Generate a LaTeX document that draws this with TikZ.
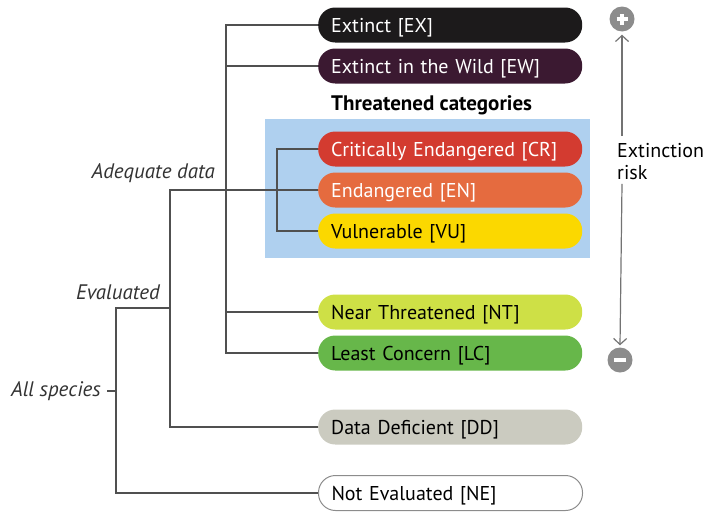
\documentclass[tikz,border=0pt]{standalone}
\usepackage{fontspec}
\setmainfont{PT Sans}
\usepackage{tikz}
\usetikzlibrary{positioning,arrows.meta}

\definecolor{exCol}{HTML}{1C1A1B}
\definecolor{ewCol}{HTML}{3B1931}
\definecolor{crCol}{HTML}{D33B30}
\definecolor{enCol}{HTML}{E56B3F}
\definecolor{vuCol}{HTML}{FBD800}
\definecolor{ntCol}{HTML}{CEE046}
\definecolor{lcCol}{HTML}{67B74A}
\definecolor{ddCol}{HTML}{CBCBC0}
\definecolor{boxCol}{HTML}{AFD0EF}
\definecolor{lineCol}{HTML}{505050}
\definecolor{riskCol}{HTML}{8C8C8C}

\tikzset{
  pill/.style={rectangle, rounded corners=17pt, anchor=west, minimum height=35pt,
    inner xsep=13pt, inner ysep=0pt, text width=238pt, text height=16pt, text depth=2pt,
    align=left, font=\fontsize{20}{24}\selectfont},
  branch/.style={draw=lineCol, line width=1.3pt},
  lab/.style={anchor=east, inner sep=0pt, font=\fontsize{21}{24}\selectfont\itshape, text=black!80},
  riskdot/.style={circle, fill=riskCol, minimum size=25pt, inner sep=0pt},
  riskline/.style={draw=black!55, line width=1.2pt, -{Straight Barb[length=6pt,width=13pt,line width=1.2pt]}}
}

\begin{document}
\begin{tikzpicture}[x=1pt, y=-1pt]
    \useasboundingbox (0,0) rectangle (708,514);
    % threatened box
    \fill[boxCol] (265,119) rectangle (590,258);
    \node[font=\fontsize{21}{24}\selectfont\bfseries, anchor=west, inner sep=0pt] (thr) at (331,105) {Threatened categories};

    % categories
    \node[pill, fill=exCol, text=white] (EX) at (318,25) {Extinct [EX]};
    \node[pill, fill=ewCol, text=white] (EW) at (318,66) {Extinct in the Wild [EW]};
    \node[pill, fill=crCol, text=white] (CR) at (318,149) {Critically Endangered [CR]};
    \node[pill, fill=enCol, text=white] (EN) at (318,190) {Endangered [EN]};
    \node[pill, fill=vuCol] (VU) at (318,231) {Vulnerable [VU]};
    \node[pill, fill=ntCol] (NT) at (318,312) {Near Threatened [NT]};
    \node[pill, fill=lcCol] (LC) at (318,353) {Least Concern [LC]};
    \node[pill, fill=ddCol] (DD) at (318,427) {Data Deficient [DD]};
    \node[pill, fill=white, draw=riskCol, line width=1pt] (NE) at (318,493) {Not Evaluated [NE]};

    % tree
    \coordinate (adq) at (226,190);
    \coordinate (thrj) at (277,190);
    \coordinate (evl) at (170,190);
    \coordinate (evlj) at (170,308);
    \coordinate (allj) at (116,308);
    \draw[branch] (EX.west) -| (adq) |- (LC.west);
    \draw[branch] (EW.west) -- (EW.west -| adq);
    \draw[branch] (NT.west) -- (NT.west -| adq);
    \draw[branch] (CR.west) -| (thrj) |- (VU.west);
    \draw[branch] (EN.west) -- (evl) |- (DD.west);
    \draw[branch] (evlj) -- (allj) |- (NE.west);

    \node[lab] (adqlab) at (215,173) {Adequate data};
    \node[lab] (evllab) at (160,292) {Evaluated};
    \node[lab] (alllab) at (101,391) {All species};
    \draw[branch] ([xshift=6pt]alllab.east) -- (alllab.east -| allj);

    % extinction risk
    \node[riskdot] (plus) at (622,19) {};
    \node[riskdot] (minus) at (620,360) {};
    \draw[white, line width=3.5pt] ([xshift=-5.5pt]plus.center) -- ([xshift=5.5pt]plus.center)
      ([yshift=-5.5pt]plus.center) -- ([yshift=5.5pt]plus.center);
    \draw[white, line width=3.5pt] ([xshift=-6pt]minus.center) -- ([xshift=6pt]minus.center);
    \node[anchor=north west, align=left, inner sep=0pt, font=\fontsize{20}{22}\selectfont] (risk) at (617,143) {Extinction\\risk};
    \draw[riskline] (risk.north -| plus) ++(0,-7) -- ([yshift=-3pt]plus.south);
    \draw[riskline] ([yshift=-4pt]risk.south -| plus) -- ([yshift=2pt]minus.north);
\end{tikzpicture}
\end{document}
